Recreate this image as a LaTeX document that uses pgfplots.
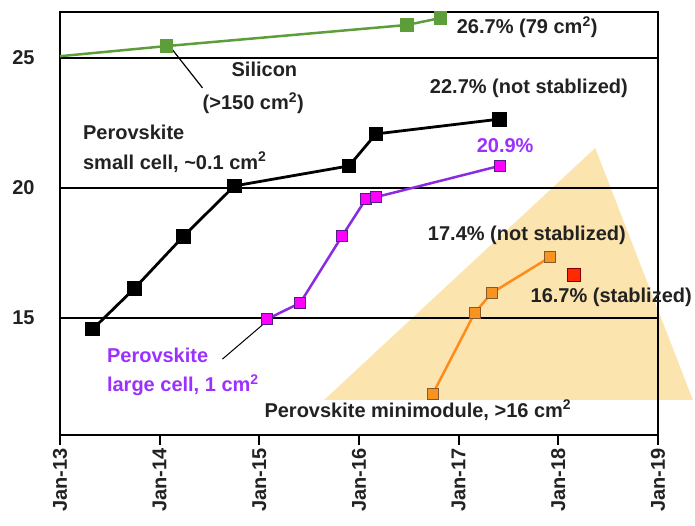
\documentclass[border=0pt]{standalone}
\usepackage{fontspec}
\setmainfont{Liberation Sans}
\usepackage{pgfplots}
\pgfplotsset{compat=1.18}
\definecolor{sigreen}{HTML}{5E9E3A}
\definecolor{pvpurple}{HTML}{8A2BE2}
\definecolor{pvtext}{HTML}{9B30FF}
\definecolor{pvmag}{HTML}{FF00FF}
\definecolor{pvorange}{HTML}{FF8C1A}
\definecolor{mkorange}{HTML}{F7931E}
\definecolor{tri}{HTML}{FCE4AE}
\definecolor{redmk}{HTML}{FF2A00}
\definecolor{txt}{HTML}{222222}
\newcommand{\F}{\fontsize{20bp}{23bp}\selectfont\bfseries}
\newcommand{\T}{\fontsize{20bp}{23bp}\selectfont\bfseries}
\begin{document}
\begin{tikzpicture}
\begin{axis}[name=ax, set layers, scale only axis, width=598bp, height=423bp,
  xmin=2013, xmax=2019, ymin=10.5, ymax=26.77, clip=false,
  axis line style={line width=2.2bp},
  xtick={2013,2014,2015,2016,2017,2018,2019},
  xticklabels={Jan-13,Jan-14,Jan-15,Jan-16,Jan-17,Jan-18,Jan-19},
  ytick={15,20,25}, ymajorgrids, grid style={black, line width=1.6bp},
  tick align=outside, xtick pos=bottom, ytick pos=left,
  ytick style={draw=none}, xtick style={black, line width=2bp},
  major tick length=10bp,
  ticklabel style={font=\T, text=txt},
  /pgf/number format/assume math mode=true,
  xticklabel style={rotate=90, anchor=east},
  yticklabel style={xshift=-12bp},
]
% shaded triangle
\addplot[draw=none, fill=tri, on layer=axis background] coordinates {(2015.65,11.85) (2018.37,21.54) (2019.35,11.85)};
% Silicon
\addplot[sigreen, line width=2.5bp, mark=square*, mark size=5.5bp, mark indices={2,3,4},
  mark options={fill=sigreen, draw=sigreen}] coordinates {(2013,25.07) (2014.07,25.46) (2016.48,26.27) (2016.82,26.54)};
% Perovskite small cell
\addplot[black, line width=2.8bp, mark=square*, mark size=6bp, mark options={fill=black}] coordinates {
(2013.33,14.58) (2013.75,16.15) (2014.24,18.15) (2014.75,20.08) (2015.90,20.85) (2016.17,22.08) (2017.41,22.65)};
% Perovskite large cell
\addplot[pvpurple, line width=2.5bp, mark=square*, mark size=5.5bp, mark options={fill=pvmag, draw=pvpurple!60!black, line width=1bp}] coordinates {
(2015.08,14.96) (2015.41,15.58) (2015.83,18.15) (2016.07,19.58) (2016.17,19.65) (2017.41,20.85)};
% Minimodule
\addplot[pvorange, line width=2.5bp, mark=square*, mark size=5.5bp, mark options={fill=mkorange, draw=brown!70!black, line width=1bp}] coordinates {
(2016.74,12.08) (2017.16,15.19) (2017.33,15.96) (2017.92,17.35)};
% stabilized
\addplot[only marks, mark=square*, mark size=6.5bp, mark options={fill=redmk, draw=red!50!black, line width=1bp}] coordinates {(2018.16,16.65)};
% leader lines
\draw[black, line width=1.2bp] (axis cs:2014.13,25.31) -- (axis cs:2014.43,23.85);
\draw[black, line width=1bp] (axis cs:2015.03,14.73) -- (axis cs:2014.63,13.42);
% annotations
\begin{scope}[every node/.style={anchor=west, inner sep=0pt, font=\F, text=txt}]
\node at (axis cs:2016.98,26.19) {26.7\% (79 cm\textsuperscript{2})};
\node at (axis cs:2014.72,24.58) {Silicon};
\node at (axis cs:2014.43,23.27) {(>150 cm\textsuperscript{2})};
\node at (axis cs:2013.23,22.15) {Perovskite};
\node at (axis cs:2013.23,21.0) {small cell, \textasciitilde0.1 cm\textsuperscript{2}};
\node at (axis cs:2016.71,23.85) {22.7\% (not stablized)};
\node[text=pvtext] at (axis cs:2017.18,21.62) {20.9\%};
\node at (axis cs:2016.69,18.19) {17.4\% (not stablized)};
\node at (axis cs:2017.72,15.81) {16.7\% (stablized)};
\node at (axis cs:2015.05,11.46) {Perovskite minimodule, >16 cm\textsuperscript{2}};
\node[text=pvtext] at (axis cs:2013.47,13.58) {Perovskite};
\node[text=pvtext] at (axis cs:2013.47,12.42) {large cell, 1 cm\textsuperscript{2}};
\end{scope}
\end{axis}
\pgfresetboundingbox
\path[use as bounding box] ([xshift=-60bp,yshift=-91bp]ax.south west) rectangle ([xshift=37bp,yshift=12bp]ax.north east);
\end{tikzpicture}
\end{document}
